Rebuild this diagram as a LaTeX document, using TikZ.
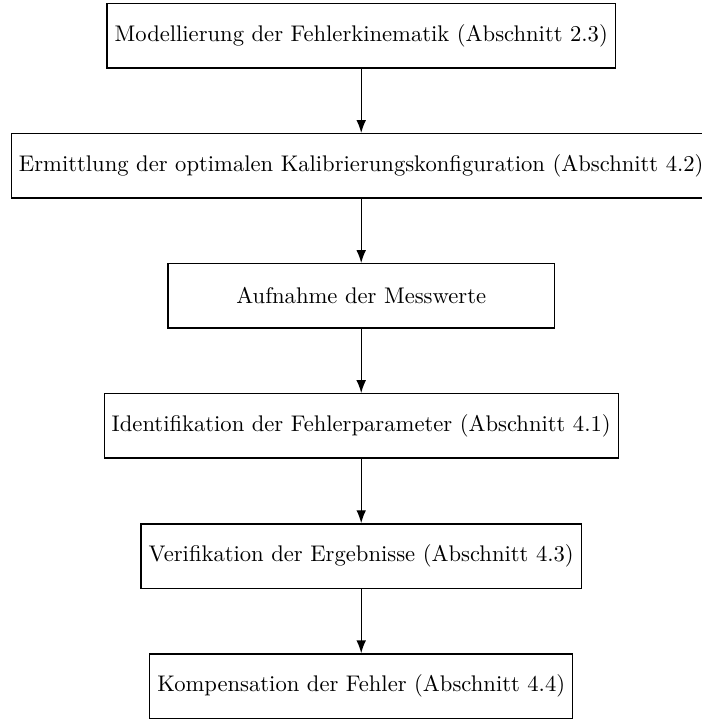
\documentclass[tikz,border=0pt]{standalone}
\usepackage{tikz}
\usetikzlibrary{arrows.meta,positioning}
\tikzset{
    box/.style={draw, semithick, rectangle, minimum width=6cm, minimum height=1cm},
    flow/.style={-Latex, semithick}}

\begin{document}
\begin{tikzpicture}[node distance=1cm]
\node[box] (Mod) {Modellierung der Fehlerkinematik (Abschnitt 2.3)};
\node[box, below=of Mod] (Erm) {Ermittlung der optimalen Kalibrierungskonfiguration (Abschnitt 4.2)};
\node[box, below=of Erm] (Auf) {Aufnahme der Messwerte};
\node[box, below=of Auf] (Ident) {Identifikation der Fehlerparameter (Abschnitt 4.1)};
\node[box, below=of Ident] (Ver) {Verifikation der Ergebnisse (Abschnitt 4.3)};
\node[box, below=of Ver] (Komp) {Kompensation der Fehler (Abschnitt 4.4)};

\draw [flow](Mod)--(Erm);
\draw [flow](Erm)--(Auf);
\draw [flow](Auf)--(Ident);
\draw [flow](Ident)--(Ver);
\draw [flow](Ver)--(Komp);

%page as in the original (right end of the 2nd box cut off)
\pgfresetboundingbox
\useasboundingbox ([xshift=-159.7pt,yshift=1.3pt]Mod.north) rectangle ([xshift=150.4pt,yshift=-0.45pt]Komp.south);
\end{tikzpicture}
\end{document}
